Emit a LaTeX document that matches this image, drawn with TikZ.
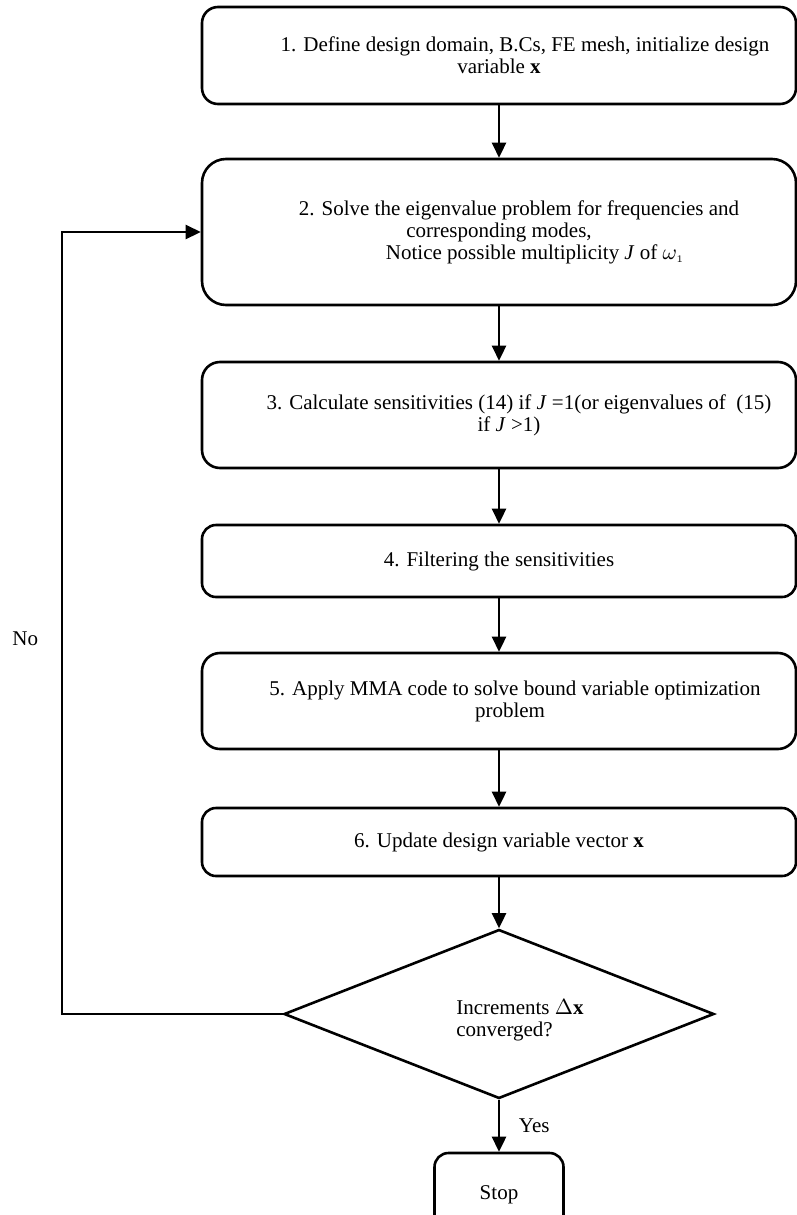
\documentclass[tikz,border=0pt]{standalone}
\usepackage{fontspec}
\setmainfont{Liberation Serif}
\usepackage{tikz}
\usetikzlibrary{shapes.geometric,arrows.meta,positioning}
\newcommand{\stepnode}[4]{%
  \node[procbox, minimum height=#2, rounded corners=#3, #4] (#1) }

\begin{document}
\begin{tikzpicture}[x=0.5pt,y=-0.5pt,
  procbox/.style={rectangle, draw=black, line width=1.3pt, minimum width=297pt,
        align=center, font=\fontsize{10.5}{11}\selectfont, inner sep=2pt},
  flecha/.style={line width=1.3pt, -{Triangle[length=7.5pt,width=7pt]}},
  etiq/.style={font=\fontsize{10.5}{11}\selectfont}]

\useasboundingbox (0,0) rectangle (797,1215);

\stepnode{DomainFE}{48.5pt}{8pt}{at={(499,55.5)}}
  {\hspace*{26pt}1. Define design domain, B.Cs, FE mesh, initialize design\\
   variable \textbf{x}};

\stepnode{EigenFE}{73pt}{12pt}{at={(499,232)}}
  {\hspace*{20pt}2. Solve the eigenvalue problem for frequencies and\\
   corresponding modes,\hspace*{24pt}\\
   \hspace*{36pt}Notice possible multiplicity \textit{J} of $\omega_{\scriptscriptstyle 1}$};

\stepnode{SensFE}{53pt}{9pt}{at={(499,415)}}
  {\hspace*{20pt}3. Calculate sensitivities (14) if \textit{J} =1(or eigenvalues of~ (15)\\
   \hspace*{10pt}if \textit{J} >1)};

\stepnode{FilterFE}{36pt}{7pt}{at={(499,561)}}
  {4. Filtering the sensitivities};

\stepnode{MmaFE}{48pt}{9pt}{at={(499,701)}}
  {\hspace*{16pt}5. Apply MMA code to solve bound variable optimization\\
   \hspace*{11pt}problem};

\stepnode{UpdateFE}{34pt}{7pt}{at={(499,842)}}
  {6. Update design variable vector \textbf{x}};

\node[diamond, draw=black, line width=1.3pt, minimum width=215pt,
      minimum height=84.5pt, inner sep=0pt,
      label={[align=left, etiq, inner sep=0pt, xshift=10.5pt, yshift=-3pt]center:
        Increments $\Delta$\textbf{x}\\converged?}] (ConvFE) at (499,1014) {};

\stepnode{StopFE}{42pt}{7pt}{minimum width=64.5pt, at={(499,1195)}}
  {Stop};

\coordinate (loopBot) at (62,1014);
\coordinate (loopTop) at (62,232);

\draw[flecha] (DomainFE) -- (EigenFE);
\draw[flecha] (EigenFE) -- (SensFE);
\draw[flecha] (SensFE) -- (FilterFE);
\draw[flecha] (FilterFE) -- (MmaFE);
\draw[flecha] (MmaFE) -- (UpdateFE);
\draw[flecha] (UpdateFE) -- (ConvFE);
\draw[flecha] (ConvFE) -- node[right=6pt, etiq]{Yes} (StopFE);
\draw[flecha] (ConvFE.west) -- (loopBot)
  -- node[pos=0.48, left=8pt, etiq]{No} (loopTop) -- (EigenFE.west);

\end{tikzpicture}
\end{document}
